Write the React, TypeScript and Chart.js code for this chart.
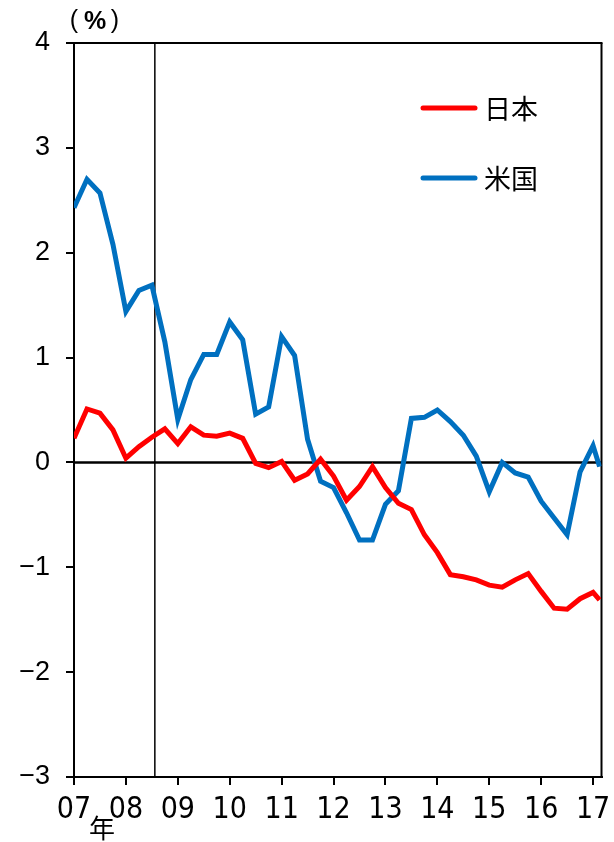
import { useEffect, useRef } from 'react';
import { Chart, registerables } from 'chart.js';

Chart.register(...registerables);

// Year tick labels (one every 4 quarters)
const yearLabels = ['07', '08', '09', '10', '11', '12', '13', '14', '15', '16', '17'];

// Position of each observation in quarters since 2007 Q1 (last one is a partial period)
const quarterX = [
  0, 1, 2, 3, 4, 5, 6, 7, 8, 9, 10, 11, 12, 13, 14, 15, 16, 17, 18, 19, 20,
  21, 22, 23, 24, 25, 26, 27, 28, 29, 30, 31, 32, 33, 34, 35, 36, 37, 38, 39, 40, 40.5,
];

const japan = [
  0.23, 0.51, 0.47, 0.31, 0.04, 0.15, 0.24, 0.32, 0.18, 0.34, 0.26, 0.25, 0.28, 0.23,
  -0.01, -0.05, 0.01, -0.17, -0.11, 0.03, -0.13, -0.36, -0.23, -0.04, -0.24, -0.39,
  -0.45, -0.69, -0.86, -1.07, -1.09, -1.12, -1.17, -1.19, -1.12, -1.06, -1.23, -1.39,
  -1.4, -1.3, -1.24, -1.31,
];

const us = [
  2.43, 2.7, 2.57, 2.08, 1.44, 1.64, 1.69, 1.15, 0.41, 0.79, 1.03, 1.03, 1.34, 1.17,
  0.46, 0.53, 1.2, 1.02, 0.22, -0.18, -0.24, -0.48, -0.74, -0.74, -0.4, -0.27, 0.42,
  0.43, 0.5, 0.39, 0.26, 0.06, -0.28, 0.0, -0.1, -0.14, -0.37, -0.53, -0.69, -0.09,
  0.16, -0.04,
];

const seriesNames = ['日本', '米国'];
const seriesColors = ['#FF0000', '#0070C0'];

// Vertical marker (Sept 2008), in quarters since 2007 Q1
const markerX = 6.23;

const yMin = -3;
const yMax = 4;
const xMax = 40.65;

export default function App() {
  const ref = useRef<HTMLCanvasElement>(null);

  useEffect(() => {
    const canvas = ref.current;
    if (!canvas) return;
    const numFont = "'DejaVu Sans Condensed', 'Liberation Sans Narrow', 'Liberation Sans', Arial, sans-serif";
    const yFont = "'Liberation Sans', Arial, sans-serif";
    const cjkFont = "'Noto Sans CJK JP', 'Noto Sans', sans-serif";

    const overlay = {
      id: 'overlay',
      beforeDatasetsDraw(chart: any) {
        const { ctx, chartArea: a, scales } = chart;
        const x = scales.x;
        const y = scales.y;
        ctx.save();
        ctx.strokeStyle = '#000';
        ctx.lineCap = 'butt';
        const seg = (x1: number, y1: number, x2: number, y2: number) => {
          ctx.beginPath();
          ctx.moveTo(x1, y1);
          ctx.lineTo(x2, y2);
          ctx.stroke();
        };
        // marker line
        ctx.lineWidth = 1.5;
        const xm = x.getPixelForValue(markerX);
        seg(xm, a.top, xm, a.bottom);
        // zero line
        ctx.lineWidth = 2.5;
        const y0 = y.getPixelForValue(0);
        seg(a.left, y0, a.right, y0);
        // top and right border
        ctx.lineWidth = 2;
        seg(a.left, a.top, a.right + 1, a.top);
        seg(a.right, a.top, a.right, a.bottom + 1);
        ctx.restore();
      },
      afterDraw(chart: any) {
        const { ctx } = chart;
        ctx.save();
        // legend
        chart.data.datasets.forEach((ds: any, i: number) => {
          const ly = 108 + i * 70;
          ctx.strokeStyle = ds.borderColor;
          ctx.lineWidth = 5;
          ctx.lineCap = 'round';
          ctx.beginPath();
          ctx.moveTo(423, ly);
          ctx.lineTo(475, ly);
          ctx.stroke();
          ctx.fillStyle = '#000';
          ctx.font = `27px ${cjkFont}`;
          ctx.textAlign = 'left';
          ctx.textBaseline = 'middle';
          ctx.fillText(ds.label, 484, ly + 1);
        });
        // unit label
        ctx.fillStyle = '#000';
        ctx.textAlign = 'center';
        ctx.textBaseline = 'middle';
        ctx.font = `25px ${yFont}`;
        ctx.fillText('(', 74, 21);
        ctx.fillText(')', 115, 21);
        ctx.font = `bold 25px ${yFont}`;
        ctx.fillText('%', 95, 22);
        // year suffix
        ctx.font = `26px ${cjkFont}`;
        ctx.fillText('年', 102, 828);
        ctx.restore();
      },
    };

    const chart = new Chart(canvas, {
      type: 'line',
      data: {
        datasets: [japan, us].map((vals, i) => ({
          label: seriesNames[i],
          data: vals.map((v, j) => ({ x: quarterX[j], y: v })),
          borderColor: seriesColors[i],
          backgroundColor: seriesColors[i],
          borderWidth: 5,
          pointRadius: 0,
          tension: 0,
          fill: false,
        })),
      },
      options: {
        animation: false,
        responsive: false,
        layout: { autoPadding: false, padding: { top: 43, right: 12.5, left: 0, bottom: 0 } },
        plugins: { legend: { display: false }, tooltip: { enabled: false } },
        scales: {
          x: {
            type: 'linear',
            min: 0,
            max: xMax,
            afterBuildTicks: (s: any) => {
              s.ticks = yearLabels.map((_, i) => ({ value: i * 4 }));
            },
            afterFit: (s: any) => {
              s.height = 65;
              s.paddingLeft = 0;
              s.paddingRight = 0;
            },
            ticks: {
              autoSkip: false,
              maxRotation: 0,
              callback: (_v: any, idx: number) => yearLabels[idx],
              font: { family: numFont, size: 30, weight: 'condensed' as any },
              color: '#000',
              padding: 7,
            },
            grid: { drawOnChartArea: false, tickLength: 8, color: '#000', lineWidth: 2 },
            border: { color: '#000', width: 2 },
          },
          y: {
            min: yMin,
            max: yMax,
            afterFit: (s: any) => {
              s.width = 74;
              s.paddingTop = 0;
              s.paddingBottom = 0;
            },
            ticks: {
              stepSize: 1,
              callback: (v: any) => String(v).replace('-', '−'),
              font: { family: yFont, size: 27 },
              color: '#000',
              padding: 16,
            },
            grid: { drawOnChartArea: false, tickLength: 8, color: '#000', lineWidth: 2 },
            border: { color: '#000', width: 2 },
          },
        },
      },
      plugins: [overlay],
    });
    return () => chart.destroy();
  }, []);

  return (
    <div style={{ position: 'absolute', left: 0, top: 0, width: 614, height: 842 }}>
      <canvas ref={ref} width={614} height={842} style={{ display: 'block' }} />
    </div>
  );
}
